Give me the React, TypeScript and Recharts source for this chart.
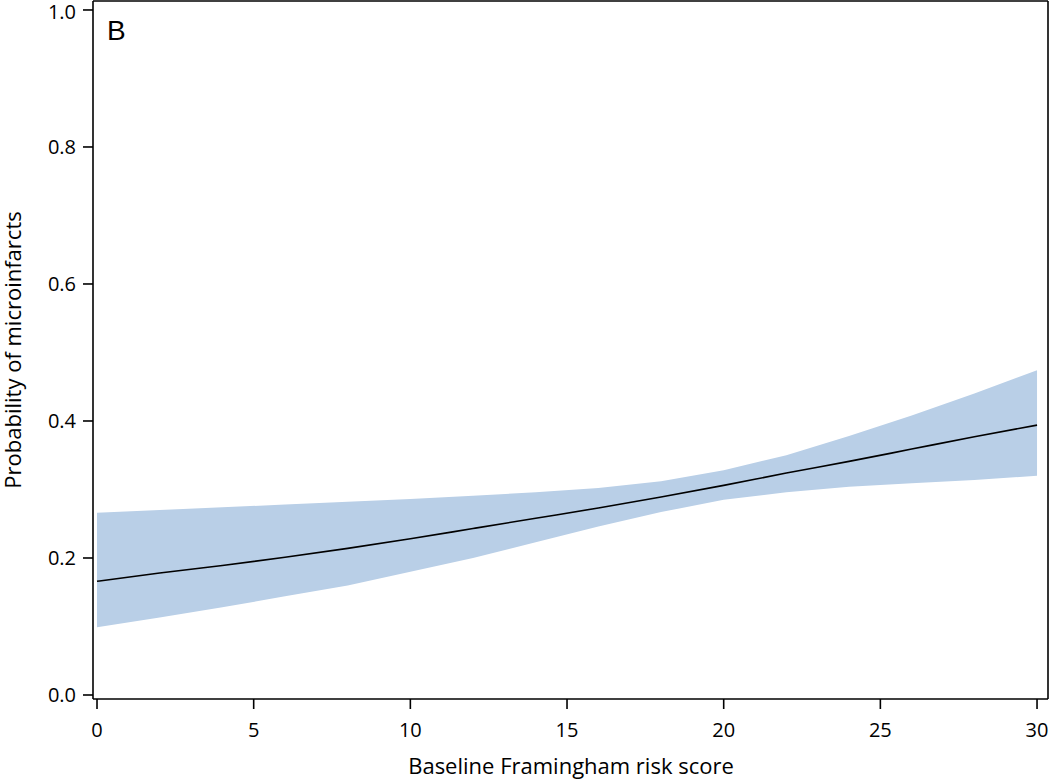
import React from "react";
import {
  ComposedChart,
  Area,
  Line,
  XAxis,
  YAxis,
  Label,
  ReferenceLine,
} from "recharts";

// Baseline Framingham risk score
const scores = [0, 2, 4, 6, 8, 10, 12, 14, 16, 18, 20, 22, 24, 26, 28, 30];
// fitted probability of microinfarcts
const fitted = [0.166, 0.178, 0.189, 0.201, 0.214, 0.228, 0.243, 0.258, 0.273, 0.289, 0.306, 0.324, 0.341, 0.359, 0.377, 0.394];
// 95% CI bounds
const lower = [0.099, 0.113, 0.128, 0.144, 0.160, 0.180, 0.200, 0.223, 0.246, 0.267, 0.285, 0.296, 0.304, 0.309, 0.314, 0.320];
const upper = [0.266, 0.270, 0.274, 0.278, 0.282, 0.286, 0.291, 0.296, 0.302, 0.312, 0.328, 0.350, 0.378, 0.408, 0.440, 0.474];

const xTicks = [0, 5, 10, 15, 20, 25, 30];
const yTicks = [0, 0.2, 0.4, 0.6, 0.8, 1.0];

const X_DOMAIN: [number, number] = [-0.128, 30.35];
const Y_DOMAIN: [number, number] = [-0.00584, 1.0131];

const data = scores.map((s, i) => ({
  score: s,
  fit: fitted[i],
  band: [lower[i], upper[i]],
}));

const FONT = "'Open Sans', 'Noto Sans', sans-serif";
const tickStyle = { fontFamily: FONT, fontSize: 20, fill: "#000" };

export default function App() {
  return (
    <div style={{ position: "absolute", left: 0, top: 0, width: 1050, height: 780, background: "#fff" }}>
      <ComposedChart
        width={1050}
        height={780}
        data={data}
        margin={{ top: 1, right: 2, left: 0, bottom: 0 }}
      >
        <XAxis
          dataKey="score"
          type="number"
          domain={X_DOMAIN}
          ticks={xTicks}
          allowDataOverflow
          height={81}
          tickSize={10}
          tickMargin={14}
          tick={tickStyle}
          tickFormatter={(v) => String(v)}
          axisLine={{ stroke: "#000", strokeWidth: 1.6 }}
          tickLine={{ stroke: "#000", strokeWidth: 1.6 }}
        >
          <Label
            content={() => (
              <text x={571} y={774} textAnchor="middle" fontFamily={FONT} fontSize={22} fill="#000">
                Baseline Framingham risk score
              </text>
            )}
          />
        </XAxis>
        <YAxis
          type="number"
          domain={Y_DOMAIN}
          ticks={yTicks}
          allowDataOverflow
          width={93}
          tickSize={10}
          tickMargin={7}
          tick={tickStyle}
          tickFormatter={(v) => Number(v).toFixed(1)}
          axisLine={{ stroke: "#000", strokeWidth: 1.6 }}
          tickLine={{ stroke: "#000", strokeWidth: 1.6 }}
        >
          <Label
            content={() => (
              <text
                x={12}
                y={350}
                transform="rotate(-90 12 350)"
                textAnchor="middle"
                dominantBaseline="central"
                fontFamily={FONT}
                fontSize={22}
                fill="#000"
              >
                Probability of microinfarcts
              </text>
            )}
          />
        </YAxis>
        <Area
          dataKey="band"
          type="linear"
          stroke="none"
          fill="#b9cfe7"
          fillOpacity={1}
          isAnimationActive={false}
        />
        <Line
          dataKey="fit"
          type="monotone"
          stroke="#000"
          strokeWidth={1.6}
          dot={false}
          activeDot={false}
          isAnimationActive={false}
        />
        {/* top and right frame */}
        <ReferenceLine y={Y_DOMAIN[1]} stroke="#000" strokeWidth={1.6} ifOverflow="visible" />
        <ReferenceLine x={X_DOMAIN[1]} stroke="#000" strokeWidth={1.6} ifOverflow="visible" />
      </ComposedChart>
      <svg
        width={200}
        height={80}
        style={{ position: "absolute", left: 0, top: 0, pointerEvents: "none" }}
      >
        <text x={107} y={40} fontFamily="'Liberation Sans', Arial, sans-serif" fontSize={28} fill="#000">
          B
        </text>
      </svg>
    </div>
  );
}
